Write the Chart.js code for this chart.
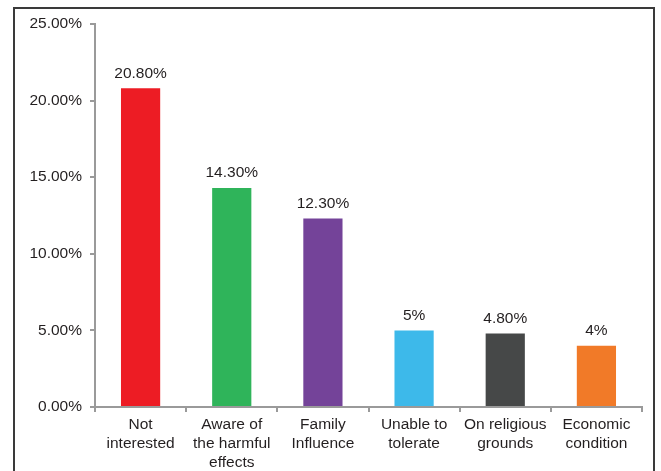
<!DOCTYPE html>
<html lang="en">
<head>
    <meta charset="UTF-8">
    <title>Reasons</title>
    <script src="https://cdn.jsdelivr.net/npm/chart.js"></script>
    <style>
        body { margin: 0; background: #fff; }
        .frame {
            position: absolute;
            left: 13px; top: 7px;
            width: 642px; height: 500px;
            border: 2px solid #3a3a3a;
            box-sizing: border-box;
        }
        .wrap {
            position: absolute;
            left: 0; top: 0;
            width: 661px; height: 471px;
        }
    </style>
</head>
<body>
    <div class="frame"></div>
    <div class="wrap"><canvas id="reasonChart"></canvas></div>

    <script>
        // data
        const categories = [
            ['Not', 'interested'],
            ['Aware of', 'the harmful', 'effects'],
            ['Family', 'Influence'],
            ['Unable to', 'tolerate'],
            ['On religious', 'grounds'],
            ['Economic', 'condition']
        ];
        const values = [20.8, 14.3, 12.3, 5, 4.8, 4];
        const valueLabels = ['20.80%', '14.30%', '12.30%', '5%', '4.80%', '4%'];
        const barColors = ['#ED1C24', '#2FB45A', '#744399', '#3DB9EA', '#464848', '#F17A28'];

        // draws the value text above each bar
        const topLabels = {
            id: 'topLabels',
            afterDatasetsDraw(chart) {
                const ctx = chart.ctx;
                const meta = chart.getDatasetMeta(0);
                ctx.save();
                ctx.font = '15.5px "Liberation Sans", Arial, sans-serif';
                ctx.fillStyle = '#231f20';
                ctx.textAlign = 'center';
                ctx.textBaseline = 'bottom';
                meta.data.forEach((bar, i) => {
                    ctx.fillText(valueLabels[i], bar.x, bar.y - 7);
                });
                ctx.restore();
            }
        };

        new Chart(document.getElementById('reasonChart').getContext('2d'), {
            type: 'bar',
            data: {
                labels: categories,
                datasets: [{
                    data: values,
                    backgroundColor: barColors,
                    categoryPercentage: 1,
                    barPercentage: 0.43
                }]
            },
            options: {
                responsive: true,
                maintainAspectRatio: false,
                animation: false,
                layout: { padding: { left: 0, right: 19, top: 24, bottom: 0 } },
                plugins: {
                    legend: { display: false },
                    tooltip: { enabled: false }
                },
                scales: {
                    x: {
                        grid: {
                            offset: true,
                            drawOnChartArea: false,
                            drawTicks: true,
                            tickLength: 5,
                            color: '#9a9a9a',
                            lineWidth: 2
                        },
                        border: { display: true, color: '#9a9a9a', width: 2 },
                        ticks: {
                            color: '#231f20',
                            padding: 3,
                            maxRotation: 0,
                            autoSkip: false,
                            font: { family: '"Liberation Sans", Arial, sans-serif', size: 15.5, lineHeight: 1.22 }
                        },
                        afterFit(scale) { scale.height = 64; }
                    },
                    y: {
                        min: 0,
                        max: 25,
                        grid: {
                            drawOnChartArea: false,
                            drawTicks: true,
                            tickLength: 5,
                            color: '#9a9a9a',
                            lineWidth: 2
                        },
                        border: { display: true, color: '#9a9a9a', width: 2 },
                        ticks: {
                            stepSize: 5,
                            color: '#231f20',
                            padding: 8,
                            font: { family: '"Liberation Sans", Arial, sans-serif', size: 15.5 },
                            callback: v => v.toFixed(2) + '%'
                        },
                        afterFit(scale) { scale.width = 95; }
                    }
                }
            },
            plugins: [topLabels]
        });
    </script>
</body>
</html>
